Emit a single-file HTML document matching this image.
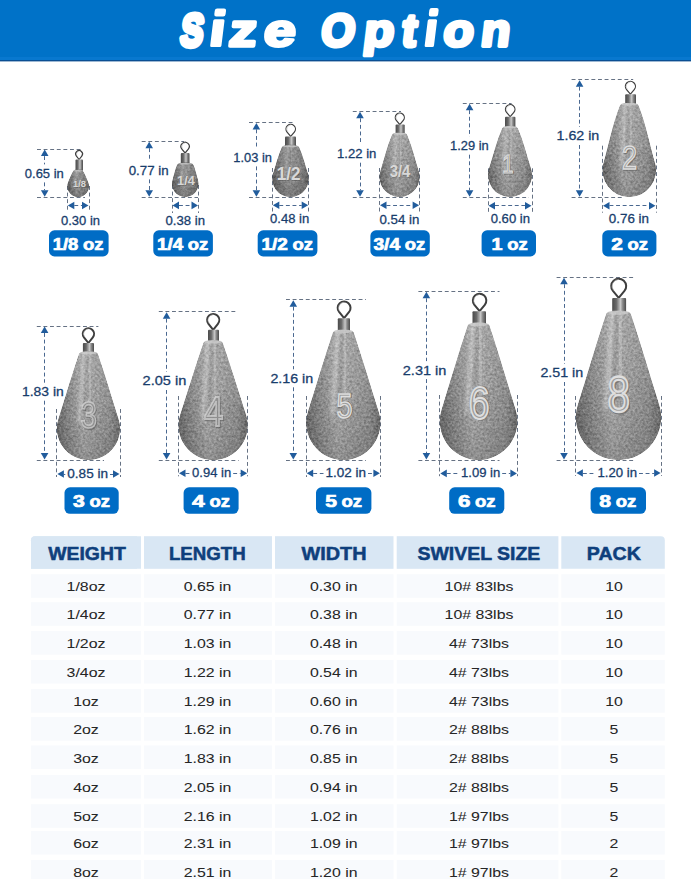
<!DOCTYPE html><html><head><meta charset="utf-8"><style>
html,body{margin:0;padding:0;background:#fff;width:691px;height:879px;overflow:hidden}
svg{display:block}
text{font-family:"Liberation Sans",sans-serif}
.dl{stroke:#667284;stroke-width:1;stroke-dasharray:3.9 2.7;fill:none}
.da{stroke:#4a6890;stroke-width:1;stroke-dasharray:3.9 2.7;fill:none}
.dt{fill:#183d6c;stroke:#183d6c;stroke-width:0.28}
.pl{fill:#fff;font-weight:bold}
.th{fill:#0f3f7c;font-weight:bold}
.td{fill:#262626;stroke:#262626;stroke-width:0.05}
</style></head><body>
<svg width="691" height="879" viewBox="0 0 691 879">
<defs>
<linearGradient id="gb" x1="0" y1="0" x2="1" y2="0">
<stop offset="0" stop-color="#686868"/><stop offset="0.18" stop-color="#858585"/><stop offset="0.42" stop-color="#a4a4a4"/><stop offset="0.58" stop-color="#9b9b9b"/><stop offset="0.85" stop-color="#8b8b8b"/><stop offset="1" stop-color="#6c6c6c"/>
</linearGradient>
<linearGradient id="gv" x1="0" y1="0" x2="0" y2="1">
<stop offset="0" stop-color="#fff" stop-opacity="0.10"/><stop offset="0.45" stop-color="#fff" stop-opacity="0.03"/><stop offset="0.7" stop-color="#000" stop-opacity="0.03"/><stop offset="1" stop-color="#000" stop-opacity="0.12"/>
</linearGradient>
<linearGradient id="gc" x1="0" y1="0" x2="1" y2="0">
<stop offset="0" stop-color="#4a4a4a"/><stop offset="0.3" stop-color="#6a6a6a"/><stop offset="0.6" stop-color="#c8c8c8"/><stop offset="0.75" stop-color="#8a8a8a"/><stop offset="1" stop-color="#4a4a4a"/>
</linearGradient>
<filter id="tex" x="-5%" y="-5%" width="110%" height="110%" color-interpolation-filters="sRGB">
<feTurbulence type="fractalNoise" baseFrequency="0.42" numOctaves="3" seed="7" result="n"/>
<feColorMatrix in="n" type="matrix" values="1 0 0 0 0  1 0 0 0 0  1 0 0 0 0  0 0 0 0 1" result="g"/>
<feComposite in="SourceGraphic" in2="g" operator="arithmetic" k1="0" k2="1" k3="0.34" k4="-0.17" result="m"/>
<feComposite in="m" in2="SourceGraphic" operator="in"/>
</filter>
<filter id="blur" x="-50%" y="-10%" width="200%" height="120%"><feGaussianBlur stdDeviation="1.8"/></filter>
</defs>
<rect x="0" y="0" width="691" height="61" fill="#0072c8"/>
<rect x="0" y="57" width="691" height="3" fill="#0878cf"/>
<rect x="0" y="60" width="691" height="1.4" fill="#0b4f92"/>
<g transform="skewX(-7)"><text transform="translate(184.83,45.7) scale(0.739,1)" font-size="45.5" font-weight="bold" fill="#fff" stroke="#fff" stroke-width="5.41" stroke-linejoin="round">S</text><rect x="215.77" y="19.2" width="11.27" height="27.80" rx="1.5" fill="#fff"/><rect x="216.07" y="8.50" width="11.27" height="8.00" rx="2.2" fill="#fff"/><text transform="translate(233.58,45.7) scale(1.201,1)" font-size="45.5" font-weight="bold" fill="#fff" stroke="#fff" stroke-width="3.33" stroke-linejoin="round">z</text><text transform="translate(268.07,45.7) scale(1.257,1)" font-size="45.5" font-weight="bold" fill="#fff" stroke="#fff" stroke-width="3.18" stroke-linejoin="round">e</text><text transform="translate(325.24,45.7) scale(0.951,1)" font-size="45.5" font-weight="bold" fill="#fff" stroke="#fff" stroke-width="4.20" stroke-linejoin="round">O</text><text transform="translate(367.97,45.7) scale(1.099,1)" font-size="45.5" font-weight="bold" fill="#fff" stroke="#fff" stroke-width="3.64" stroke-linejoin="round">p</text><text transform="translate(406.42,45.7) scale(0.932,1)" font-size="45.5" font-weight="bold" fill="#fff" stroke="#fff" stroke-width="4.29" stroke-linejoin="round">t</text><rect x="430.27" y="19.2" width="9.32" height="27.80" rx="1.5" fill="#fff"/><rect x="430.57" y="8.10" width="9.32" height="8.40" rx="2.2" fill="#fff"/><text transform="translate(447.59,45.7) scale(1.093,1)" font-size="45.5" font-weight="bold" fill="#fff" stroke="#fff" stroke-width="3.66" stroke-linejoin="round">o</text><text transform="translate(485.44,45.7) scale(1.045,1)" font-size="45.5" font-weight="bold" fill="#fff" stroke="#fff" stroke-width="3.83" stroke-linejoin="round">n</text></g>

<line x1="37.0" y1="149.5" x2="81.0" y2="149.5" class="dl"/>
<line x1="37.0" y1="197.5" x2="85.0" y2="197.5" class="dl"/>
<line x1="44.5" y1="156.1" x2="44.5" y2="164.4" class="da"/>
<line x1="44.5" y1="182.4" x2="44.5" y2="190.2" class="da"/>
<polygon points="44.7,149.6 40.9,156.1 48.5,156.1" fill="#215c9c"/>
<polygon points="44.7,196.7 40.9,190.2 48.5,190.2" fill="#215c9c"/>
<text x="24.8" y="177.8" textLength="39.0" lengthAdjust="spacingAndGlyphs" class="dt" font-size="12.7">0.65 in</text>
<line x1="67.5" y1="186.0" x2="67.5" y2="212.0" class="dl"/>
<line x1="89.5" y1="186.0" x2="89.5" y2="212.0" class="dl"/>
<line x1="74.3" y1="205.5" x2="82.0" y2="205.5" class="da"/>
<text x="61.0" y="224.7" textLength="39.0" lengthAdjust="spacingAndGlyphs" class="dt" font-size="12.7">0.30 in</text>
<polygon points="67.8,205.5 74.3,201.7 74.3,209.3" fill="#215c9c"/>
<polygon points="88.5,205.5 82.0,201.7 82.0,209.3" fill="#215c9c"/>
<path d="M79.10,159.50 L76.43,156.08 A3.39,3.39 0 1 1 81.77,156.08 Z" fill="none" stroke="#3e3e3e" stroke-width="1.20" stroke-linejoin="round"/>
<path d="M77.13,155.58 A2.69,2.69 0 0 1 79.10,151.30" fill="none" stroke="#bbb" stroke-width="0.6"/>
<rect x="75.5" y="159.5" width="7.5" height="11.5" fill="url(#gc)" rx="1"/>
<path d="M72.73,171.90 C73.54,170.00 75.44,169.32 78.15,169.32 C80.86,169.32 82.76,170.00 83.58,171.90 C85.37,174.94 86.55,178.43 88.02,181.65 A10.85,10.85 0 1 1 68.28,181.65 C69.75,178.43 70.93,174.94 72.73,171.90 Z" fill="url(#gb)" filter="url(#tex)"/>
<path d="M72.73,171.90 C73.54,170.00 75.44,169.32 78.15,169.32 C80.86,169.32 82.76,170.00 83.58,171.90 C85.37,174.94 86.55,178.43 88.02,181.65 A10.85,10.85 0 1 1 68.28,181.65 C69.75,178.43 70.93,174.94 72.73,171.90 Z" fill="url(#gv)"/>
<path d="M72.73,171.90 C73.54,170.00 75.44,169.32 78.15,169.32 C80.86,169.32 82.76,170.00 83.58,171.90 C85.37,174.94 86.55,178.43 88.02,181.65 A10.85,10.85 0 1 1 68.28,181.65 C69.75,178.43 70.93,174.94 72.73,171.90 Z" fill="#000" opacity="0.13"/>
<path d="M76.63,172.00 L74.90,187.55" stroke="#fff" stroke-opacity="0.25" stroke-width="1.30" stroke-linecap="round" filter="url(#blur)"/>
<path d="M78.58,172.00 L78.80,184.85" stroke="#fff" stroke-opacity="0.22" stroke-width="1.09" stroke-linecap="round" filter="url(#blur)"/>
<path d="M77.61,174.00 L76.85,186.20" stroke="#000" stroke-opacity="0.10" stroke-width="1.09" stroke-linecap="round" filter="url(#blur)"/>
<ellipse cx="78.15" cy="170.80" rx="4.88" ry="0.80" fill="#d0d0d0" opacity="0.7"/>
<text x="73.5" y="187.8" textLength="13.0" lengthAdjust="spacingAndGlyphs" font-size="9.9" font-weight="bold" fill="#555" opacity="0.5">1/8</text>
<text x="73.0" y="187.3" textLength="13.0" lengthAdjust="spacingAndGlyphs" font-size="9.9" font-weight="bold" fill="#d8d8d8">1/8</text>
<rect x="49.0" y="230.3" width="59.6" height="26.1" rx="5.5" fill="#006cc5"/>
<text x="52.7" y="249.7" textLength="25.6" lengthAdjust="spacingAndGlyphs" font-size="16.3" class="pl" stroke="#fff" stroke-width="0.7">1/8</text>
<text x="83.0" y="249.7" textLength="20.5" lengthAdjust="spacingAndGlyphs" font-size="16.3" class="pl" stroke="#fff" stroke-width="0.7">oz</text>
<line x1="141.7" y1="141.5" x2="184.0" y2="141.5" class="dl"/>
<line x1="141.7" y1="197.5" x2="198.0" y2="197.5" class="dl"/>
<line x1="149.5" y1="148.2" x2="149.5" y2="161.4" class="da"/>
<line x1="149.5" y1="179.4" x2="149.5" y2="190.2" class="da"/>
<polygon points="149.2,141.7 145.4,148.2 153.0,148.2" fill="#215c9c"/>
<polygon points="149.2,196.7 145.4,190.2 153.0,190.2" fill="#215c9c"/>
<text x="128.7" y="174.8" textLength="39.9" lengthAdjust="spacingAndGlyphs" class="dt" font-size="12.7">0.77 in</text>
<line x1="172.5" y1="185.0" x2="172.5" y2="213.0" class="dl"/>
<line x1="198.5" y1="185.0" x2="198.5" y2="213.0" class="dl"/>
<line x1="179.0" y1="205.5" x2="191.5" y2="205.5" class="da"/>
<text x="165.5" y="225.1" textLength="39.5" lengthAdjust="spacingAndGlyphs" class="dt" font-size="12.7">0.38 in</text>
<polygon points="172.5,205.4 179.0,201.6 179.0,209.2" fill="#215c9c"/>
<polygon points="198.0,205.4 191.5,201.6 191.5,209.2" fill="#215c9c"/>
<path d="M185.10,153.00 L181.89,149.07 A4.15,4.15 0 1 1 188.31,149.07 Z" fill="none" stroke="#3e3e3e" stroke-width="1.20" stroke-linejoin="round"/>
<path d="M182.59,148.57 A3.45,3.45 0 0 1 185.10,143.00" fill="none" stroke="#bbb" stroke-width="0.6"/>
<rect x="180.8" y="153.0" width="8.7" height="11.0" fill="url(#gc)" rx="1"/>
<path d="M177.03,165.10 C177.94,163.00 181.14,162.25 185.25,162.25 C189.36,162.25 192.56,163.00 193.47,165.10 C195.44,169.81 196.46,175.03 197.94,179.92 A13.25,13.25 0 1 1 172.56,179.92 C174.04,175.03 175.06,169.81 177.03,165.10 Z" fill="url(#gb)" filter="url(#tex)"/>
<path d="M177.03,165.10 C177.94,163.00 181.14,162.25 185.25,162.25 C189.36,162.25 192.56,163.00 193.47,165.10 C195.44,169.81 196.46,175.03 197.94,179.92 A13.25,13.25 0 1 1 172.56,179.92 C174.04,175.03 175.06,169.81 177.03,165.10 Z" fill="url(#gv)"/>
<path d="M177.03,165.10 C177.94,163.00 181.14,162.25 185.25,162.25 C189.36,162.25 192.56,163.00 193.47,165.10 C195.44,169.81 196.46,175.03 197.94,179.92 A13.25,13.25 0 1 1 172.56,179.92 C174.04,175.03 175.06,169.81 177.03,165.10 Z" fill="#000" opacity="0.13"/>
<path d="M183.40,165.00 L181.28,185.10" stroke="#fff" stroke-opacity="0.25" stroke-width="1.59" stroke-linecap="round" filter="url(#blur)"/>
<path d="M185.78,165.00 L186.04,181.70" stroke="#fff" stroke-opacity="0.22" stroke-width="1.33" stroke-linecap="round" filter="url(#blur)"/>
<path d="M184.59,167.00 L183.66,183.40" stroke="#000" stroke-opacity="0.10" stroke-width="1.33" stroke-linecap="round" filter="url(#blur)"/>
<ellipse cx="185.25" cy="163.80" rx="7.39" ry="0.80" fill="#d0d0d0" opacity="0.7"/>
<text x="177.6" y="185.5" textLength="17.7" lengthAdjust="spacingAndGlyphs" font-size="13.4" font-weight="bold" fill="#555" opacity="0.5">1/4</text>
<text x="177.1" y="185.0" textLength="17.7" lengthAdjust="spacingAndGlyphs" font-size="13.4" font-weight="bold" fill="#d8d8d8">1/4</text>
<rect x="153.3" y="230.3" width="59.6" height="26.1" rx="5.5" fill="#006cc5"/>
<text x="157.0" y="249.7" textLength="26.1" lengthAdjust="spacingAndGlyphs" font-size="16.3" class="pl" stroke="#fff" stroke-width="0.7">1/4</text>
<text x="187.8" y="249.7" textLength="20.5" lengthAdjust="spacingAndGlyphs" font-size="16.3" class="pl" stroke="#fff" stroke-width="0.7">oz</text>
<line x1="249.0" y1="122.5" x2="292.8" y2="122.5" class="dl"/>
<line x1="249.0" y1="197.5" x2="304.7" y2="197.5" class="dl"/>
<line x1="256.5" y1="129.4" x2="256.5" y2="148.4" class="da"/>
<line x1="256.5" y1="166.4" x2="256.5" y2="190.2" class="da"/>
<polygon points="256.4,122.9 252.6,129.4 260.2,129.4" fill="#215c9c"/>
<polygon points="256.4,196.7 252.6,190.2 260.2,190.2" fill="#215c9c"/>
<text x="233.3" y="161.8" textLength="38.6" lengthAdjust="spacingAndGlyphs" class="dt" font-size="12.7">1.03 in</text>
<line x1="272.5" y1="168.0" x2="272.5" y2="212.0" class="dl"/>
<line x1="308.5" y1="168.0" x2="308.5" y2="212.0" class="dl"/>
<line x1="279.3" y1="205.5" x2="301.7" y2="205.5" class="da"/>
<text x="270.0" y="223.2" textLength="39.2" lengthAdjust="spacingAndGlyphs" class="dt" font-size="12.7">0.48 in</text>
<polygon points="272.8,205.3 279.3,201.5 279.3,209.1" fill="#215c9c"/>
<polygon points="308.2,205.3 301.7,201.5 301.7,209.1" fill="#215c9c"/>
<path d="M290.70,136.40 L287.07,132.08 A4.73,4.73 0 1 1 294.33,132.08 Z" fill="none" stroke="#3e3e3e" stroke-width="1.20" stroke-linejoin="round"/>
<path d="M287.77,131.58 A4.03,4.03 0 0 1 290.70,125.00" fill="none" stroke="#bbb" stroke-width="0.6"/>
<rect x="285.0" y="136.4" width="11.0" height="10.1" fill="url(#gc)" rx="1"/>
<path d="M281.76,147.60 C282.66,145.50 286.13,144.75 290.50,144.75 C294.87,144.75 298.34,145.50 299.24,147.60 C302.91,155.65 304.94,164.63 307.76,173.02 A18.20,18.20 0 1 1 273.24,173.02 C276.06,164.63 278.09,155.65 281.76,147.60 Z" fill="url(#gb)" filter="url(#tex)"/>
<path d="M281.76,147.60 C282.66,145.50 286.13,144.75 290.50,144.75 C294.87,144.75 298.34,145.50 299.24,147.60 C302.91,155.65 304.94,164.63 307.76,173.02 A18.20,18.20 0 1 1 273.24,173.02 C276.06,164.63 278.09,155.65 281.76,147.60 Z" fill="url(#gv)"/>
<path d="M281.76,147.60 C282.66,145.50 286.13,144.75 290.50,144.75 C294.87,144.75 298.34,145.50 299.24,147.60 C302.91,155.65 304.94,164.63 307.76,173.02 A18.20,18.20 0 1 1 273.24,173.02 C276.06,164.63 278.09,155.65 281.76,147.60 Z" fill="#000" opacity="0.13"/>
<path d="M287.95,147.50 L285.04,178.97" stroke="#fff" stroke-opacity="0.25" stroke-width="2.18" stroke-linecap="round" filter="url(#blur)"/>
<path d="M291.23,147.50 L291.59,173.82" stroke="#fff" stroke-opacity="0.22" stroke-width="1.82" stroke-linecap="round" filter="url(#blur)"/>
<path d="M289.59,149.50 L288.32,176.40" stroke="#000" stroke-opacity="0.10" stroke-width="1.82" stroke-linecap="round" filter="url(#blur)"/>
<ellipse cx="290.50" cy="146.30" rx="7.86" ry="0.91" fill="#d0d0d0" opacity="0.7"/>
<text x="277.3" y="180.5" textLength="23.8" lengthAdjust="spacingAndGlyphs" font-size="18.0" font-weight="bold" fill="#555" opacity="0.5">1/2</text>
<text x="276.8" y="180.0" textLength="23.8" lengthAdjust="spacingAndGlyphs" font-size="18.0" font-weight="bold" fill="#d8d8d8">1/2</text>
<rect x="257.7" y="230.3" width="59.7" height="26.1" rx="5.5" fill="#006cc5"/>
<text x="261.6" y="249.7" textLength="26.3" lengthAdjust="spacingAndGlyphs" font-size="16.3" class="pl" stroke="#fff" stroke-width="0.7">1/2</text>
<text x="292.6" y="249.7" textLength="20.5" lengthAdjust="spacingAndGlyphs" font-size="16.3" class="pl" stroke="#fff" stroke-width="0.7">oz</text>
<line x1="352.8" y1="111.5" x2="401.0" y2="111.5" class="dl"/>
<line x1="352.8" y1="197.5" x2="408.0" y2="197.5" class="dl"/>
<line x1="360.5" y1="118.3" x2="360.5" y2="144.7" class="da"/>
<line x1="360.5" y1="162.7" x2="360.5" y2="190.2" class="da"/>
<polygon points="360.0,111.8 356.2,118.3 363.8,118.3" fill="#215c9c"/>
<polygon points="360.0,196.7 356.2,190.2 363.8,190.2" fill="#215c9c"/>
<text x="337.0" y="158.1" textLength="39.4" lengthAdjust="spacingAndGlyphs" class="dt" font-size="12.7">1.22 in</text>
<line x1="379.5" y1="168.0" x2="379.5" y2="213.0" class="dl"/>
<line x1="419.5" y1="168.0" x2="419.5" y2="213.0" class="dl"/>
<line x1="386.5" y1="205.5" x2="412.6" y2="205.5" class="da"/>
<text x="379.5" y="223.7" textLength="39.8" lengthAdjust="spacingAndGlyphs" class="dt" font-size="12.7">0.54 in</text>
<polygon points="380.0,205.3 386.5,201.5 386.5,209.1" fill="#215c9c"/>
<polygon points="419.1,205.3 412.6,201.5 412.6,209.1" fill="#215c9c"/>
<path d="M399.80,124.60 L396.32,120.42 A4.52,4.52 0 1 1 403.28,120.42 Z" fill="none" stroke="#3e3e3e" stroke-width="1.20" stroke-linejoin="round"/>
<path d="M397.02,119.92 A3.82,3.82 0 0 1 399.80,113.70" fill="none" stroke="#bbb" stroke-width="0.6"/>
<rect x="395.6" y="124.6" width="9.1" height="9.4" fill="url(#gc)" rx="1"/>
<path d="M391.93,135.10 C392.83,133.00 395.74,132.25 399.55,132.25 C403.36,132.25 406.27,133.00 407.17,135.10 C412.17,146.43 414.85,159.03 418.64,170.82 A20.05,20.05 0 1 1 380.46,170.82 C384.25,159.03 386.93,146.43 391.93,135.10 Z" fill="url(#gb)" filter="url(#tex)"/>
<path d="M391.93,135.10 C392.83,133.00 395.74,132.25 399.55,132.25 C403.36,132.25 406.27,133.00 407.17,135.10 C412.17,146.43 414.85,159.03 418.64,170.82 A20.05,20.05 0 1 1 380.46,170.82 C384.25,159.03 386.93,146.43 391.93,135.10 Z" fill="url(#gv)"/>
<path d="M396.74,135.00 L393.54,174.60" stroke="#fff" stroke-opacity="0.25" stroke-width="2.41" stroke-linecap="round" filter="url(#blur)"/>
<path d="M400.35,135.00 L400.75,168.20" stroke="#fff" stroke-opacity="0.22" stroke-width="2.01" stroke-linecap="round" filter="url(#blur)"/>
<path d="M398.55,137.00 L397.14,171.40" stroke="#000" stroke-opacity="0.10" stroke-width="2.01" stroke-linecap="round" filter="url(#blur)"/>
<ellipse cx="399.55" cy="133.80" rx="6.86" ry="1.00" fill="#d0d0d0" opacity="0.7"/>
<text x="390.2" y="177.9" textLength="20.6" lengthAdjust="spacingAndGlyphs" font-size="15.6" font-weight="bold" fill="#555" opacity="0.5">3/4</text>
<text x="389.7" y="177.4" textLength="20.6" lengthAdjust="spacingAndGlyphs" font-size="15.6" font-weight="bold" fill="#d8d8d8">3/4</text>
<rect x="370.4" y="230.3" width="59.4" height="26.1" rx="5.5" fill="#006cc5"/>
<text x="373.4" y="249.7" textLength="26.7" lengthAdjust="spacingAndGlyphs" font-size="16.3" class="pl" stroke="#fff" stroke-width="0.7">3/4</text>
<text x="404.8" y="249.7" textLength="20.5" lengthAdjust="spacingAndGlyphs" font-size="16.3" class="pl" stroke="#fff" stroke-width="0.7">oz</text>
<line x1="462.8" y1="103.5" x2="511.6" y2="103.5" class="dl"/>
<line x1="462.8" y1="197.5" x2="529.0" y2="197.5" class="dl"/>
<line x1="469.5" y1="110.2" x2="469.5" y2="136.7" class="da"/>
<line x1="469.5" y1="154.7" x2="469.5" y2="190.2" class="da"/>
<polygon points="469.6,103.7 465.8,110.2 473.4,110.2" fill="#215c9c"/>
<polygon points="469.6,196.7 465.8,190.2 473.4,190.2" fill="#215c9c"/>
<text x="450.0" y="150.1" textLength="38.7" lengthAdjust="spacingAndGlyphs" class="dt" font-size="12.7">1.29 in</text>
<line x1="488.5" y1="168.3" x2="488.5" y2="211.9" class="dl"/>
<line x1="532.5" y1="168.3" x2="532.5" y2="211.9" class="dl"/>
<line x1="495.0" y1="205.5" x2="525.0" y2="205.5" class="da"/>
<text x="490.7" y="223.0" textLength="39.3" lengthAdjust="spacingAndGlyphs" class="dt" font-size="12.7">0.60 in</text>
<polygon points="488.5,205.7 495.0,201.9 495.0,209.5" fill="#215c9c"/>
<polygon points="531.5,205.7 525.0,201.9 525.0,209.5" fill="#215c9c"/>
<path d="M510.20,116.70 L506.57,112.38 A4.73,4.73 0 1 1 513.83,112.38 Z" fill="none" stroke="#3e3e3e" stroke-width="1.20" stroke-linejoin="round"/>
<path d="M507.27,111.88 A4.03,4.03 0 0 1 510.20,105.30" fill="none" stroke="#bbb" stroke-width="0.6"/>
<rect x="505.0" y="116.7" width="10.4" height="10.7" fill="url(#gc)" rx="1"/>
<path d="M502.08,128.50 C502.98,126.40 506.04,125.65 510.00,125.65 C513.96,125.65 517.02,126.40 517.92,128.50 C523.55,141.07 526.62,155.07 530.91,168.15 A22.00,22.00 0 1 1 489.09,168.15 C493.38,155.07 496.45,141.07 502.08,128.50 Z" fill="url(#gb)" filter="url(#tex)"/>
<path d="M502.08,128.50 C502.98,126.40 506.04,125.65 510.00,125.65 C513.96,125.65 517.02,126.40 517.92,128.50 C523.55,141.07 526.62,155.07 530.91,168.15 A22.00,22.00 0 1 1 489.09,168.15 C493.38,155.07 496.45,141.07 502.08,128.50 Z" fill="url(#gv)"/>
<path d="M506.92,128.40 L503.40,172.29" stroke="#fff" stroke-opacity="0.25" stroke-width="2.64" stroke-linecap="round" filter="url(#blur)"/>
<path d="M510.88,128.40 L511.32,165.23" stroke="#fff" stroke-opacity="0.22" stroke-width="2.20" stroke-linecap="round" filter="url(#blur)"/>
<path d="M508.90,130.40 L507.36,168.76" stroke="#000" stroke-opacity="0.10" stroke-width="2.20" stroke-linecap="round" filter="url(#blur)"/>
<ellipse cx="510.00" cy="127.20" rx="7.13" ry="1.10" fill="#d0d0d0" opacity="0.7"/>
<text x="503.0" y="173.5" textLength="11.3" lengthAdjust="spacingAndGlyphs" font-size="25.4" fill="#4a4a4a" stroke="#4a4a4a" stroke-width="1.53" opacity="0.45">1</text>
<text x="502.3" y="172.8" textLength="11.3" lengthAdjust="spacingAndGlyphs" font-size="25.4" fill="#9a9a9a" stroke="#dedede" stroke-width="1.14" opacity="1">1</text>
<rect x="481.6" y="230.3" width="54.4" height="26.1" rx="5.5" fill="#006cc5"/>
<text x="491.5" y="249.7" textLength="11.0" lengthAdjust="spacingAndGlyphs" font-size="16.3" class="pl" stroke="#fff" stroke-width="0.7">1</text>
<text x="507.2" y="249.7" textLength="20.5" lengthAdjust="spacingAndGlyphs" font-size="16.3" class="pl" stroke="#fff" stroke-width="0.7">oz</text>
<line x1="571.6" y1="79.5" x2="633.2" y2="79.5" class="dl"/>
<line x1="571.6" y1="197.5" x2="623.5" y2="197.5" class="dl"/>
<line x1="579.5" y1="86.7" x2="579.5" y2="127.0" class="da"/>
<line x1="579.5" y1="145.0" x2="579.5" y2="190.2" class="da"/>
<polygon points="579.6,80.2 575.8,86.7 583.4,86.7" fill="#215c9c"/>
<polygon points="579.6,196.7 575.8,190.2 583.4,190.2" fill="#215c9c"/>
<text x="556.5" y="140.4" textLength="42.8" lengthAdjust="spacingAndGlyphs" class="dt" font-size="12.7">1.62 in</text>
<line x1="602.5" y1="145.7" x2="602.5" y2="212.7" class="dl"/>
<line x1="656.5" y1="145.7" x2="656.5" y2="212.7" class="dl"/>
<line x1="609.5" y1="205.5" x2="649.0" y2="205.5" class="da"/>
<text x="608.8" y="223.1" textLength="40.2" lengthAdjust="spacingAndGlyphs" class="dt" font-size="12.7">0.76 in</text>
<polygon points="603.0,205.8 609.5,202.0 609.5,209.6" fill="#215c9c"/>
<polygon points="655.5,205.8 649.0,202.0 649.0,209.6" fill="#215c9c"/>
<path d="M630.40,94.20 L626.57,89.68 A5.03,5.03 0 1 1 634.23,89.68 Z" fill="none" stroke="#3e3e3e" stroke-width="1.20" stroke-linejoin="round"/>
<path d="M627.27,89.18 A4.33,4.33 0 0 1 630.40,82.10" fill="none" stroke="#bbb" stroke-width="0.6"/>
<rect x="625.2" y="94.2" width="10.8" height="10.3" fill="url(#gc)" rx="1"/>
<path d="M619.99,105.60 C620.89,103.50 624.62,102.75 629.25,102.75 C633.88,102.75 637.61,103.50 638.51,105.60 C645.88,123.83 649.53,143.97 654.96,162.86 A26.75,26.75 0 1 1 603.54,162.86 C608.97,143.97 612.62,123.83 619.99,105.60 Z" fill="url(#gb)" filter="url(#tex)"/>
<path d="M619.99,105.60 C620.89,103.50 624.62,102.75 629.25,102.75 C633.88,102.75 637.61,103.50 638.51,105.60 C645.88,123.83 649.53,143.97 654.96,162.86 A26.75,26.75 0 1 1 603.54,162.86 C608.97,143.97 612.62,123.83 619.99,105.60 Z" fill="url(#gv)"/>
<path d="M625.50,105.50 L621.23,164.28" stroke="#fff" stroke-opacity="0.25" stroke-width="3.21" stroke-linecap="round" filter="url(#blur)"/>
<path d="M630.32,105.50 L630.86,154.93" stroke="#fff" stroke-opacity="0.22" stroke-width="2.68" stroke-linecap="round" filter="url(#blur)"/>
<path d="M627.91,107.50 L626.04,159.60" stroke="#000" stroke-opacity="0.10" stroke-width="2.68" stroke-linecap="round" filter="url(#blur)"/>
<ellipse cx="629.25" cy="104.30" rx="8.33" ry="1.34" fill="#d0d0d0" opacity="0.7"/>
<text x="622.7" y="170.1" textLength="15.1" lengthAdjust="spacingAndGlyphs" font-size="33.9" fill="#4a4a4a" stroke="#4a4a4a" stroke-width="2.03" opacity="0.45">2</text>
<text x="622.0" y="169.4" textLength="15.1" lengthAdjust="spacingAndGlyphs" font-size="33.9" fill="#9a9a9a" stroke="#dedede" stroke-width="1.52" opacity="1">2</text>
<rect x="602.3" y="230.3" width="54.1" height="26.1" rx="5.5" fill="#006cc5"/>
<text x="611.3" y="249.7" textLength="11.6" lengthAdjust="spacingAndGlyphs" font-size="16.3" class="pl" stroke="#fff" stroke-width="0.7">2</text>
<text x="627.6" y="249.7" textLength="20.5" lengthAdjust="spacingAndGlyphs" font-size="16.3" class="pl" stroke="#fff" stroke-width="0.7">oz</text>
<line x1="36.8" y1="326.5" x2="98.4" y2="326.5" class="dl"/>
<line x1="36.8" y1="460.5" x2="104.0" y2="460.5" class="dl"/>
<line x1="44.5" y1="333.0" x2="44.5" y2="382.7" class="da"/>
<line x1="44.5" y1="400.7" x2="44.5" y2="453.0" class="da"/>
<polygon points="44.6,326.5 40.8,333.0 48.4,333.0" fill="#215c9c"/>
<polygon points="44.6,459.5 40.8,453.0 48.4,453.0" fill="#215c9c"/>
<text x="22.0" y="396.1" textLength="41.7" lengthAdjust="spacingAndGlyphs" class="dt" font-size="12.7">1.83 in</text>
<line x1="56.5" y1="409.0" x2="56.5" y2="477.0" class="dl"/>
<line x1="120.5" y1="409.0" x2="120.5" y2="477.0" class="dl"/>
<line x1="63.9" y1="474.5" x2="65.3" y2="474.5" class="da"/>
<line x1="110.0" y1="474.5" x2="113.0" y2="474.5" class="da"/>
<text x="67.3" y="477.5" textLength="40.7" lengthAdjust="spacingAndGlyphs" class="dt" font-size="12.7">0.85 in</text>
<polygon points="57.4,474.0 63.9,470.2 63.9,477.8" fill="#215c9c"/>
<polygon points="119.5,474.0 113.0,470.2 113.0,477.8" fill="#215c9c"/>
<path d="M88.40,343.00 L83.96,337.30 A5.64,5.64 0 1 1 92.84,337.30 Z" fill="none" stroke="#3e3e3e" stroke-width="2.00" stroke-linejoin="round"/>
<path d="M84.66,336.80 A4.94,4.94 0 0 1 88.40,328.90" fill="none" stroke="#bbb" stroke-width="0.6"/>
<rect x="82.9" y="343.0" width="11.1" height="11.0" fill="url(#gc)" rx="1"/>
<path d="M78.98,354.10 C79.89,352.00 83.72,351.25 88.45,351.25 C93.18,351.25 97.02,352.00 97.92,354.10 C105.09,375.36 111.72,397.51 118.52,418.89 A31.55,31.55 0 1 1 58.38,418.89 C65.18,397.51 71.81,375.36 78.98,354.10 Z" fill="url(#gb)" filter="url(#tex)"/>
<path d="M78.98,354.10 C79.89,352.00 83.72,351.25 88.45,351.25 C93.18,351.25 97.02,352.00 97.92,354.10 C105.09,375.36 111.72,397.51 118.52,418.89 A31.55,31.55 0 1 1 58.38,418.89 C65.18,397.51 71.81,375.36 78.98,354.10 Z" fill="url(#gv)"/>
<path d="M84.03,354.00 L78.98,422.20" stroke="#fff" stroke-opacity="0.25" stroke-width="3.79" stroke-linecap="round" filter="url(#blur)"/>
<path d="M89.71,354.00 L90.34,411.40" stroke="#fff" stroke-opacity="0.22" stroke-width="3.16" stroke-linecap="round" filter="url(#blur)"/>
<path d="M86.87,356.00 L84.66,416.80" stroke="#000" stroke-opacity="0.10" stroke-width="3.16" stroke-linecap="round" filter="url(#blur)"/>
<ellipse cx="88.45" cy="352.80" rx="8.52" ry="1.58" fill="#d0d0d0" opacity="0.7"/>
<text x="81.2" y="428.7" textLength="16.5" lengthAdjust="spacingAndGlyphs" font-size="37.1" fill="#4a4a4a" stroke="#4a4a4a" stroke-width="2.23" opacity="0.45">3</text>
<text x="80.5" y="428.0" textLength="16.5" lengthAdjust="spacingAndGlyphs" font-size="37.1" fill="#9a9a9a" stroke="#dedede" stroke-width="1.67" opacity="0.7">3</text>
<rect x="64.5" y="487.3" width="54.2" height="26.5" rx="5.5" fill="#006cc5"/>
<text x="73.0" y="506.8" textLength="11.8" lengthAdjust="spacingAndGlyphs" font-size="16.3" class="pl" stroke="#fff" stroke-width="0.7">3</text>
<text x="89.5" y="506.8" textLength="20.5" lengthAdjust="spacingAndGlyphs" font-size="16.3" class="pl" stroke="#fff" stroke-width="0.7">oz</text>
<line x1="158.8" y1="311.5" x2="237.8" y2="311.5" class="dl"/>
<line x1="158.8" y1="460.5" x2="238.6" y2="460.5" class="dl"/>
<line x1="166.5" y1="318.7" x2="166.5" y2="372.0" class="da"/>
<line x1="166.5" y1="390.0" x2="166.5" y2="453.0" class="da"/>
<polygon points="166.6,312.2 162.8,318.7 170.4,318.7" fill="#215c9c"/>
<polygon points="166.6,459.5 162.8,453.0 170.4,453.0" fill="#215c9c"/>
<text x="142.6" y="385.4" textLength="43.7" lengthAdjust="spacingAndGlyphs" class="dt" font-size="12.7">2.05 in</text>
<line x1="178.5" y1="396.0" x2="178.5" y2="476.3" class="dl"/>
<line x1="247.5" y1="396.0" x2="247.5" y2="476.3" class="dl"/>
<line x1="185.5" y1="473.5" x2="190.1" y2="473.5" class="da"/>
<line x1="233.2" y1="473.5" x2="240.7" y2="473.5" class="da"/>
<text x="192.1" y="476.7" textLength="39.1" lengthAdjust="spacingAndGlyphs" class="dt" font-size="12.7">0.94 in</text>
<polygon points="179.0,473.2 185.5,469.4 185.5,477.0" fill="#215c9c"/>
<polygon points="247.2,473.2 240.7,469.4 240.7,477.0" fill="#215c9c"/>
<path d="M213.20,329.80 L208.46,323.82 A6.06,6.06 0 1 1 217.94,323.82 Z" fill="none" stroke="#3e3e3e" stroke-width="2.00" stroke-linejoin="round"/>
<path d="M209.16,323.32 A5.36,5.36 0 0 1 213.20,314.70" fill="none" stroke="#bbb" stroke-width="0.6"/>
<rect x="208.0" y="329.8" width="11.0" height="12.2" fill="url(#gc)" rx="1"/>
<path d="M203.41,343.10 C204.31,341.00 208.26,340.25 213.10,340.25 C217.94,340.25 221.89,341.00 222.79,343.10 C230.86,366.60 238.35,391.09 246.01,414.73 A34.60,34.60 0 1 1 180.19,414.73 C187.85,391.09 195.34,366.60 203.41,343.10 Z" fill="url(#gb)" filter="url(#tex)"/>
<path d="M203.41,343.10 C204.31,341.00 208.26,340.25 213.10,340.25 C217.94,340.25 221.89,341.00 222.79,343.10 C230.86,366.60 238.35,391.09 246.01,414.73 A34.60,34.60 0 1 1 180.19,414.73 C187.85,391.09 195.34,366.60 203.41,343.10 Z" fill="url(#gv)"/>
<path d="M208.26,343.00 L202.72,418.35" stroke="#fff" stroke-opacity="0.25" stroke-width="4.15" stroke-linecap="round" filter="url(#blur)"/>
<path d="M214.48,343.00 L215.18,406.45" stroke="#fff" stroke-opacity="0.22" stroke-width="3.46" stroke-linecap="round" filter="url(#blur)"/>
<path d="M211.37,345.00 L208.95,412.40" stroke="#000" stroke-opacity="0.10" stroke-width="3.46" stroke-linecap="round" filter="url(#blur)"/>
<ellipse cx="213.10" cy="341.80" rx="8.72" ry="1.73" fill="#d0d0d0" opacity="0.7"/>
<text x="204.9" y="426.7" textLength="19.1" lengthAdjust="spacingAndGlyphs" font-size="42.9" fill="#4a4a4a" stroke="#4a4a4a" stroke-width="2.57" opacity="0.45">4</text>
<text x="204.2" y="426.0" textLength="19.1" lengthAdjust="spacingAndGlyphs" font-size="42.9" fill="#9a9a9a" stroke="#dedede" stroke-width="1.93" opacity="0.7">4</text>
<rect x="183.6" y="487.3" width="55.0" height="26.5" rx="5.5" fill="#006cc5"/>
<text x="192.0" y="506.8" textLength="12.7" lengthAdjust="spacingAndGlyphs" font-size="16.3" class="pl" stroke="#fff" stroke-width="0.7">4</text>
<text x="209.4" y="506.8" textLength="20.5" lengthAdjust="spacingAndGlyphs" font-size="16.3" class="pl" stroke="#fff" stroke-width="0.7">oz</text>
<line x1="286.0" y1="299.5" x2="366.0" y2="299.5" class="dl"/>
<line x1="286.0" y1="460.5" x2="366.0" y2="460.5" class="dl"/>
<line x1="293.5" y1="306.7" x2="293.5" y2="369.3" class="da"/>
<line x1="293.5" y1="387.3" x2="293.5" y2="453.0" class="da"/>
<polygon points="293.3,300.2 289.5,306.7 297.1,306.7" fill="#215c9c"/>
<polygon points="293.3,459.5 289.5,453.0 297.1,453.0" fill="#215c9c"/>
<text x="270.4" y="382.7" textLength="42.8" lengthAdjust="spacingAndGlyphs" class="dt" font-size="12.7">2.16 in</text>
<line x1="306.5" y1="396.0" x2="306.5" y2="477.0" class="dl"/>
<line x1="380.5" y1="396.0" x2="380.5" y2="477.0" class="dl"/>
<line x1="313.2" y1="473.5" x2="323.5" y2="473.5" class="da"/>
<line x1="368.0" y1="473.5" x2="373.4" y2="473.5" class="da"/>
<text x="325.5" y="476.8" textLength="40.5" lengthAdjust="spacingAndGlyphs" class="dt" font-size="12.7">1.02 in</text>
<polygon points="306.7,473.3 313.2,469.5 313.2,477.1" fill="#215c9c"/>
<polygon points="379.9,473.3 373.4,469.5 373.4,477.1" fill="#215c9c"/>
<path d="M344.10,318.20 L339.09,311.97 A6.43,6.43 0 1 1 349.11,311.97 Z" fill="none" stroke="#3e3e3e" stroke-width="2.00" stroke-linejoin="round"/>
<path d="M339.79,311.47 A5.73,5.73 0 0 1 344.10,302.20" fill="none" stroke="#bbb" stroke-width="0.6"/>
<rect x="337.8" y="318.2" width="12.2" height="13.3" fill="url(#gc)" rx="1"/>
<path d="M332.91,332.60 C333.81,330.50 338.11,329.75 343.30,329.75 C348.49,329.75 352.79,330.50 353.69,332.60 C362.39,358.56 370.43,385.62 378.68,411.73 A37.10,37.10 0 1 1 307.92,411.73 C316.17,385.62 324.21,358.56 332.91,332.60 Z" fill="url(#gb)" filter="url(#tex)"/>
<path d="M332.91,332.60 C333.81,330.50 338.11,329.75 343.30,329.75 C348.49,329.75 352.79,330.50 353.69,332.60 C362.39,358.56 370.43,385.62 378.68,411.73 A37.10,37.10 0 1 1 307.92,411.73 C316.17,385.62 324.21,358.56 332.91,332.60 Z" fill="url(#gv)"/>
<path d="M338.11,332.50 L332.17,414.68" stroke="#fff" stroke-opacity="0.25" stroke-width="4.45" stroke-linecap="round" filter="url(#blur)"/>
<path d="M344.78,332.50 L345.53,401.73" stroke="#fff" stroke-opacity="0.22" stroke-width="3.71" stroke-linecap="round" filter="url(#blur)"/>
<path d="M341.44,334.50 L338.85,408.20" stroke="#000" stroke-opacity="0.10" stroke-width="3.71" stroke-linecap="round" filter="url(#blur)"/>
<ellipse cx="343.30" cy="331.30" rx="9.35" ry="1.85" fill="#d0d0d0" opacity="0.7"/>
<text x="337.3" y="418.2" textLength="15.9" lengthAdjust="spacingAndGlyphs" font-size="35.7" fill="#4a4a4a" stroke="#4a4a4a" stroke-width="2.14" opacity="0.45">5</text>
<text x="336.6" y="417.5" textLength="15.9" lengthAdjust="spacingAndGlyphs" font-size="35.7" fill="#9a9a9a" stroke="#dedede" stroke-width="1.61" opacity="1">5</text>
<rect x="316.0" y="487.3" width="55.4" height="26.5" rx="5.5" fill="#006cc5"/>
<text x="325.2" y="506.8" textLength="11.7" lengthAdjust="spacingAndGlyphs" font-size="16.3" class="pl" stroke="#fff" stroke-width="0.7">5</text>
<text x="341.6" y="506.8" textLength="20.5" lengthAdjust="spacingAndGlyphs" font-size="16.3" class="pl" stroke="#fff" stroke-width="0.7">oz</text>
<line x1="418.4" y1="291.5" x2="499.5" y2="291.5" class="dl"/>
<line x1="418.4" y1="460.5" x2="499.5" y2="460.5" class="dl"/>
<line x1="426.5" y1="298.3" x2="426.5" y2="361.1" class="da"/>
<line x1="426.5" y1="379.1" x2="426.5" y2="453.0" class="da"/>
<polygon points="426.4,291.8 422.6,298.3 430.2,298.3" fill="#215c9c"/>
<polygon points="426.4,459.5 422.6,453.0 430.2,453.0" fill="#215c9c"/>
<text x="402.8" y="374.5" textLength="43.5" lengthAdjust="spacingAndGlyphs" class="dt" font-size="12.7">2.31 in</text>
<line x1="439.5" y1="395.0" x2="439.5" y2="476.2" class="dl"/>
<line x1="517.5" y1="395.0" x2="517.5" y2="476.2" class="dl"/>
<line x1="446.8" y1="473.5" x2="459.0" y2="473.5" class="da"/>
<line x1="502.2" y1="473.5" x2="510.4" y2="473.5" class="da"/>
<text x="461.0" y="476.9" textLength="39.2" lengthAdjust="spacingAndGlyphs" class="dt" font-size="12.7">1.09 in</text>
<polygon points="440.3,473.4 446.8,469.6 446.8,477.2" fill="#215c9c"/>
<polygon points="516.9,473.4 510.4,469.6 510.4,477.2" fill="#215c9c"/>
<path d="M479.60,311.20 L474.38,304.77 A6.73,6.73 0 1 1 484.82,304.77 Z" fill="none" stroke="#3e3e3e" stroke-width="2.00" stroke-linejoin="round"/>
<path d="M475.08,304.27 A6.03,6.03 0 0 1 479.60,294.50" fill="none" stroke="#bbb" stroke-width="0.6"/>
<rect x="472.5" y="311.2" width="13.5" height="13.3" fill="url(#gc)" rx="1"/>
<path d="M467.74,325.60 C468.64,323.50 473.17,322.75 478.60,322.75 C484.03,322.75 488.56,323.50 489.46,325.60 C498.59,353.19 507.01,381.92 515.64,409.66 A38.80,38.80 0 1 1 441.56,409.66 C450.19,381.92 458.61,353.19 467.74,325.60 Z" fill="url(#gb)" filter="url(#tex)"/>
<path d="M467.74,325.60 C468.64,323.50 473.17,322.75 478.60,322.75 C484.03,322.75 488.56,323.50 489.46,325.60 C498.59,353.19 507.01,381.92 515.64,409.66 A38.80,38.80 0 1 1 441.56,409.66 C450.19,381.92 458.61,353.19 467.74,325.60 Z" fill="url(#gv)"/>
<path d="M473.17,325.50 L466.96,412.23" stroke="#fff" stroke-opacity="0.25" stroke-width="4.66" stroke-linecap="round" filter="url(#blur)"/>
<path d="M480.15,325.50 L480.93,398.57" stroke="#fff" stroke-opacity="0.22" stroke-width="3.88" stroke-linecap="round" filter="url(#blur)"/>
<path d="M476.66,327.50 L473.94,405.40" stroke="#000" stroke-opacity="0.10" stroke-width="3.88" stroke-linecap="round" filter="url(#blur)"/>
<ellipse cx="478.60" cy="324.30" rx="9.78" ry="1.94" fill="#d0d0d0" opacity="0.7"/>
<text x="469.4" y="419.2" textLength="20.7" lengthAdjust="spacingAndGlyphs" font-size="46.4" fill="#4a4a4a" stroke="#4a4a4a" stroke-width="2.79" opacity="0.45">6</text>
<text x="468.7" y="418.5" textLength="20.7" lengthAdjust="spacingAndGlyphs" font-size="46.4" fill="#9a9a9a" stroke="#dedede" stroke-width="2.09" opacity="1">6</text>
<rect x="449.2" y="487.3" width="55.1" height="26.5" rx="5.5" fill="#006cc5"/>
<text x="457.9" y="506.8" textLength="12.4" lengthAdjust="spacingAndGlyphs" font-size="16.3" class="pl" stroke="#fff" stroke-width="0.7">6</text>
<text x="475.0" y="506.8" textLength="20.5" lengthAdjust="spacingAndGlyphs" font-size="16.3" class="pl" stroke="#fff" stroke-width="0.7">oz</text>
<line x1="556.6" y1="277.5" x2="635.0" y2="277.5" class="dl"/>
<line x1="556.6" y1="460.5" x2="635.6" y2="460.5" class="dl"/>
<line x1="564.5" y1="284.2" x2="564.5" y2="364.0" class="da"/>
<line x1="564.5" y1="382.0" x2="564.5" y2="453.0" class="da"/>
<polygon points="564.0,277.7 560.2,284.2 567.8,284.2" fill="#215c9c"/>
<polygon points="564.0,459.5 560.2,453.0 567.8,453.0" fill="#215c9c"/>
<text x="540.4" y="377.4" textLength="42.8" lengthAdjust="spacingAndGlyphs" class="dt" font-size="12.7">2.51 in</text>
<line x1="575.5" y1="396.0" x2="575.5" y2="476.0" class="dl"/>
<line x1="661.5" y1="396.0" x2="661.5" y2="476.0" class="dl"/>
<line x1="582.9" y1="473.5" x2="595.4" y2="473.5" class="da"/>
<line x1="639.0" y1="473.5" x2="654.1" y2="473.5" class="da"/>
<text x="597.4" y="476.5" textLength="39.6" lengthAdjust="spacingAndGlyphs" class="dt" font-size="12.7">1.20 in</text>
<polygon points="576.4,473.0 582.9,469.2 582.9,476.8" fill="#215c9c"/>
<polygon points="660.6,473.0 654.1,469.2 654.1,476.8" fill="#215c9c"/>
<path d="M618.70,297.90 L612.94,290.96 A7.48,7.48 0 1 1 624.46,290.96 Z" fill="none" stroke="#3e3e3e" stroke-width="2.00" stroke-linejoin="round"/>
<path d="M613.64,290.46 A6.78,6.78 0 0 1 618.70,279.40" fill="none" stroke="#bbb" stroke-width="0.6"/>
<rect x="612.2" y="297.9" width="13.9" height="14.9" fill="url(#gc)" rx="1"/>
<path d="M606.15,313.90 C607.05,311.80 612.32,311.05 618.50,311.05 C624.68,311.05 629.95,311.80 630.85,313.90 C640.72,343.70 649.83,374.75 659.17,404.72 A42.60,42.60 0 1 1 577.83,404.72 C587.17,374.75 596.28,343.70 606.15,313.90 Z" fill="url(#gb)" filter="url(#tex)"/>
<path d="M606.15,313.90 C607.05,311.80 612.32,311.05 618.50,311.05 C624.68,311.05 629.95,311.80 630.85,313.90 C640.72,343.70 649.83,374.75 659.17,404.72 A42.60,42.60 0 1 1 577.83,404.72 C587.17,374.75 596.28,343.70 606.15,313.90 Z" fill="url(#gv)"/>
<path d="M612.54,313.80 L605.72,408.13" stroke="#fff" stroke-opacity="0.25" stroke-width="5.11" stroke-linecap="round" filter="url(#blur)"/>
<path d="M620.20,313.80 L621.06,393.31" stroke="#fff" stroke-opacity="0.22" stroke-width="4.26" stroke-linecap="round" filter="url(#blur)"/>
<path d="M616.37,315.80 L613.39,400.72" stroke="#000" stroke-opacity="0.10" stroke-width="4.26" stroke-linecap="round" filter="url(#blur)"/>
<ellipse cx="618.50" cy="312.60" rx="11.12" ry="2.13" fill="#d0d0d0" opacity="0.7"/>
<text x="608.2" y="413.0" textLength="22.4" lengthAdjust="spacingAndGlyphs" font-size="50.4" fill="#4a4a4a" stroke="#4a4a4a" stroke-width="3.03" opacity="0.45">8</text>
<text x="607.5" y="412.3" textLength="22.4" lengthAdjust="spacingAndGlyphs" font-size="50.4" fill="#9a9a9a" stroke="#dedede" stroke-width="2.27" opacity="1">8</text>
<rect x="590.6" y="487.3" width="55.4" height="26.5" rx="5.5" fill="#006cc5"/>
<text x="599.2" y="506.8" textLength="11.8" lengthAdjust="spacingAndGlyphs" font-size="16.3" class="pl" stroke="#fff" stroke-width="0.7">8</text>
<text x="615.7" y="506.8" textLength="20.5" lengthAdjust="spacingAndGlyphs" font-size="16.3" class="pl" stroke="#fff" stroke-width="0.7">oz</text>
<path d="M35,536.2 H137 V568.8 H31 V540.2 Q31,536.2 35,536.2 Z" fill="#d9e7f4"/>
<path d="M35,536.2 H141 V568.8 H31 V540.2 Q31,536.2 35,536.2 Z" fill="#d9e7f4"/>
<rect x="144" y="536.2" width="128.0" height="32.6" fill="#d9e7f4"/>
<rect x="275" y="536.2" width="118.5" height="32.6" fill="#d9e7f4"/>
<rect x="396.7" y="536.2" width="161.7" height="32.6" fill="#d9e7f4"/>
<path d="M561.3,536.2 H660.8 Q664.8,536.2 664.8,540.2 V568.8 H561.3 Z" fill="#d9e7f4"/>
<text x="48.2" y="559.6" textLength="77.6" lengthAdjust="spacingAndGlyphs" font-size="17.5" class="th" stroke="#0f3f7c" stroke-width="0.5">WEIGHT</text>
<text x="168.9" y="559.6" textLength="76.9" lengthAdjust="spacingAndGlyphs" font-size="17.5" class="th" stroke="#0f3f7c" stroke-width="0.5">LENGTH</text>
<text x="301.5" y="559.6" textLength="65.0" lengthAdjust="spacingAndGlyphs" font-size="17.5" class="th" stroke="#0f3f7c" stroke-width="0.5">WIDTH</text>
<text x="417.5" y="559.6" textLength="122.8" lengthAdjust="spacingAndGlyphs" font-size="17.5" class="th" stroke="#0f3f7c" stroke-width="0.5">SWIVEL SIZE</text>
<text x="586.8" y="559.6" textLength="54.0" lengthAdjust="spacingAndGlyphs" font-size="17.5" class="th" stroke="#0f3f7c" stroke-width="0.5">PACK</text>
<rect x="31" y="574.2" width="110.0" height="23.6" fill="#f8fafd"/>
<rect x="144" y="574.2" width="128.0" height="23.6" fill="#f8fafd"/>
<rect x="275" y="574.2" width="118.5" height="23.6" fill="#f8fafd"/>
<rect x="396.7" y="574.2" width="161.7" height="23.6" fill="#f8fafd"/>
<rect x="561.3" y="574.2" width="103.5" height="23.6" fill="#f8fafd"/>
<text x="66.6" y="591.4" textLength="38.8" lengthAdjust="spacingAndGlyphs" font-size="13.5" class="td">1/8oz</text>
<text x="183.8" y="591.4" textLength="47.6" lengthAdjust="spacingAndGlyphs" font-size="13.5" class="td">0.65 in</text>
<text x="309.9" y="591.4" textLength="47.6" lengthAdjust="spacingAndGlyphs" font-size="13.5" class="td">0.30 in</text>
<text x="444.6" y="591.4" textLength="68.8" lengthAdjust="spacingAndGlyphs" font-size="13.5" class="td">10# 83lbs</text>
<text x="605.2" y="591.4" textLength="17.6" lengthAdjust="spacingAndGlyphs" font-size="13.5" class="td">10</text>
<rect x="31" y="602.2" width="110.0" height="23.6" fill="#f8fafd"/>
<rect x="144" y="602.2" width="128.0" height="23.6" fill="#f8fafd"/>
<rect x="275" y="602.2" width="118.5" height="23.6" fill="#f8fafd"/>
<rect x="396.7" y="602.2" width="161.7" height="23.6" fill="#f8fafd"/>
<rect x="561.3" y="602.2" width="103.5" height="23.6" fill="#f8fafd"/>
<text x="66.6" y="619.4" textLength="38.8" lengthAdjust="spacingAndGlyphs" font-size="13.5" class="td">1/4oz</text>
<text x="183.8" y="619.4" textLength="47.6" lengthAdjust="spacingAndGlyphs" font-size="13.5" class="td">0.77 in</text>
<text x="309.9" y="619.4" textLength="47.6" lengthAdjust="spacingAndGlyphs" font-size="13.5" class="td">0.38 in</text>
<text x="444.6" y="619.4" textLength="68.8" lengthAdjust="spacingAndGlyphs" font-size="13.5" class="td">10# 83lbs</text>
<text x="605.2" y="619.4" textLength="17.6" lengthAdjust="spacingAndGlyphs" font-size="13.5" class="td">10</text>
<rect x="31" y="631.1" width="110.0" height="23.6" fill="#f8fafd"/>
<rect x="144" y="631.1" width="128.0" height="23.6" fill="#f8fafd"/>
<rect x="275" y="631.1" width="118.5" height="23.6" fill="#f8fafd"/>
<rect x="396.7" y="631.1" width="161.7" height="23.6" fill="#f8fafd"/>
<rect x="561.3" y="631.1" width="103.5" height="23.6" fill="#f8fafd"/>
<text x="66.6" y="648.3" textLength="38.8" lengthAdjust="spacingAndGlyphs" font-size="13.5" class="td">1/2oz</text>
<text x="183.8" y="648.3" textLength="47.6" lengthAdjust="spacingAndGlyphs" font-size="13.5" class="td">1.03 in</text>
<text x="309.9" y="648.3" textLength="47.6" lengthAdjust="spacingAndGlyphs" font-size="13.5" class="td">0.48 in</text>
<text x="449.0" y="648.3" textLength="59.9" lengthAdjust="spacingAndGlyphs" font-size="13.5" class="td">4# 73lbs</text>
<text x="605.2" y="648.3" textLength="17.6" lengthAdjust="spacingAndGlyphs" font-size="13.5" class="td">10</text>
<rect x="31" y="659.9" width="110.0" height="23.6" fill="#f8fafd"/>
<rect x="144" y="659.9" width="128.0" height="23.6" fill="#f8fafd"/>
<rect x="275" y="659.9" width="118.5" height="23.6" fill="#f8fafd"/>
<rect x="396.7" y="659.9" width="161.7" height="23.6" fill="#f8fafd"/>
<rect x="561.3" y="659.9" width="103.5" height="23.6" fill="#f8fafd"/>
<text x="66.6" y="677.1" textLength="38.8" lengthAdjust="spacingAndGlyphs" font-size="13.5" class="td">3/4oz</text>
<text x="183.8" y="677.1" textLength="47.6" lengthAdjust="spacingAndGlyphs" font-size="13.5" class="td">1.22 in</text>
<text x="309.9" y="677.1" textLength="47.6" lengthAdjust="spacingAndGlyphs" font-size="13.5" class="td">0.54 in</text>
<text x="449.0" y="677.1" textLength="59.9" lengthAdjust="spacingAndGlyphs" font-size="13.5" class="td">4# 73lbs</text>
<text x="605.2" y="677.1" textLength="17.6" lengthAdjust="spacingAndGlyphs" font-size="13.5" class="td">10</text>
<rect x="31" y="689.1" width="110.0" height="23.6" fill="#f8fafd"/>
<rect x="144" y="689.1" width="128.0" height="23.6" fill="#f8fafd"/>
<rect x="275" y="689.1" width="118.5" height="23.6" fill="#f8fafd"/>
<rect x="396.7" y="689.1" width="161.7" height="23.6" fill="#f8fafd"/>
<rect x="561.3" y="689.1" width="103.5" height="23.6" fill="#f8fafd"/>
<text x="73.2" y="706.3" textLength="25.6" lengthAdjust="spacingAndGlyphs" font-size="13.5" class="td">1oz</text>
<text x="183.8" y="706.3" textLength="47.6" lengthAdjust="spacingAndGlyphs" font-size="13.5" class="td">1.29 in</text>
<text x="309.9" y="706.3" textLength="47.6" lengthAdjust="spacingAndGlyphs" font-size="13.5" class="td">0.60 in</text>
<text x="449.0" y="706.3" textLength="59.9" lengthAdjust="spacingAndGlyphs" font-size="13.5" class="td">4# 73lbs</text>
<text x="605.2" y="706.3" textLength="17.6" lengthAdjust="spacingAndGlyphs" font-size="13.5" class="td">10</text>
<rect x="31" y="717.1" width="110.0" height="23.6" fill="#f8fafd"/>
<rect x="144" y="717.1" width="128.0" height="23.6" fill="#f8fafd"/>
<rect x="275" y="717.1" width="118.5" height="23.6" fill="#f8fafd"/>
<rect x="396.7" y="717.1" width="161.7" height="23.6" fill="#f8fafd"/>
<rect x="561.3" y="717.1" width="103.5" height="23.6" fill="#f8fafd"/>
<text x="73.2" y="734.3" textLength="25.6" lengthAdjust="spacingAndGlyphs" font-size="13.5" class="td">2oz</text>
<text x="183.8" y="734.3" textLength="47.6" lengthAdjust="spacingAndGlyphs" font-size="13.5" class="td">1.62 in</text>
<text x="309.9" y="734.3" textLength="47.6" lengthAdjust="spacingAndGlyphs" font-size="13.5" class="td">0.76 in</text>
<text x="449.0" y="734.3" textLength="59.9" lengthAdjust="spacingAndGlyphs" font-size="13.5" class="td">2# 88lbs</text>
<text x="609.6" y="734.3" textLength="8.8" lengthAdjust="spacingAndGlyphs" font-size="13.5" class="td">5</text>
<rect x="31" y="745.4" width="110.0" height="23.6" fill="#f8fafd"/>
<rect x="144" y="745.4" width="128.0" height="23.6" fill="#f8fafd"/>
<rect x="275" y="745.4" width="118.5" height="23.6" fill="#f8fafd"/>
<rect x="396.7" y="745.4" width="161.7" height="23.6" fill="#f8fafd"/>
<rect x="561.3" y="745.4" width="103.5" height="23.6" fill="#f8fafd"/>
<text x="73.2" y="762.6" textLength="25.6" lengthAdjust="spacingAndGlyphs" font-size="13.5" class="td">3oz</text>
<text x="183.8" y="762.6" textLength="47.6" lengthAdjust="spacingAndGlyphs" font-size="13.5" class="td">1.83 in</text>
<text x="309.9" y="762.6" textLength="47.6" lengthAdjust="spacingAndGlyphs" font-size="13.5" class="td">0.85 in</text>
<text x="449.0" y="762.6" textLength="59.9" lengthAdjust="spacingAndGlyphs" font-size="13.5" class="td">2# 88lbs</text>
<text x="609.6" y="762.6" textLength="8.8" lengthAdjust="spacingAndGlyphs" font-size="13.5" class="td">5</text>
<rect x="31" y="774.9" width="110.0" height="23.6" fill="#f8fafd"/>
<rect x="144" y="774.9" width="128.0" height="23.6" fill="#f8fafd"/>
<rect x="275" y="774.9" width="118.5" height="23.6" fill="#f8fafd"/>
<rect x="396.7" y="774.9" width="161.7" height="23.6" fill="#f8fafd"/>
<rect x="561.3" y="774.9" width="103.5" height="23.6" fill="#f8fafd"/>
<text x="73.2" y="792.1" textLength="25.6" lengthAdjust="spacingAndGlyphs" font-size="13.5" class="td">4oz</text>
<text x="183.8" y="792.1" textLength="47.6" lengthAdjust="spacingAndGlyphs" font-size="13.5" class="td">2.05 in</text>
<text x="309.9" y="792.1" textLength="47.6" lengthAdjust="spacingAndGlyphs" font-size="13.5" class="td">0.94 in</text>
<text x="449.0" y="792.1" textLength="59.9" lengthAdjust="spacingAndGlyphs" font-size="13.5" class="td">2# 88lbs</text>
<text x="609.6" y="792.1" textLength="8.8" lengthAdjust="spacingAndGlyphs" font-size="13.5" class="td">5</text>
<rect x="31" y="804.2" width="110.0" height="23.6" fill="#f8fafd"/>
<rect x="144" y="804.2" width="128.0" height="23.6" fill="#f8fafd"/>
<rect x="275" y="804.2" width="118.5" height="23.6" fill="#f8fafd"/>
<rect x="396.7" y="804.2" width="161.7" height="23.6" fill="#f8fafd"/>
<rect x="561.3" y="804.2" width="103.5" height="23.6" fill="#f8fafd"/>
<text x="73.2" y="821.4" textLength="25.6" lengthAdjust="spacingAndGlyphs" font-size="13.5" class="td">5oz</text>
<text x="183.8" y="821.4" textLength="47.6" lengthAdjust="spacingAndGlyphs" font-size="13.5" class="td">2.16 in</text>
<text x="309.9" y="821.4" textLength="47.6" lengthAdjust="spacingAndGlyphs" font-size="13.5" class="td">1.02 in</text>
<text x="449.0" y="821.4" textLength="59.9" lengthAdjust="spacingAndGlyphs" font-size="13.5" class="td">1# 97lbs</text>
<text x="609.6" y="821.4" textLength="8.8" lengthAdjust="spacingAndGlyphs" font-size="13.5" class="td">5</text>
<rect x="31" y="831.0" width="110.0" height="23.6" fill="#f8fafd"/>
<rect x="144" y="831.0" width="128.0" height="23.6" fill="#f8fafd"/>
<rect x="275" y="831.0" width="118.5" height="23.6" fill="#f8fafd"/>
<rect x="396.7" y="831.0" width="161.7" height="23.6" fill="#f8fafd"/>
<rect x="561.3" y="831.0" width="103.5" height="23.6" fill="#f8fafd"/>
<text x="73.2" y="848.2" textLength="25.6" lengthAdjust="spacingAndGlyphs" font-size="13.5" class="td">6oz</text>
<text x="183.8" y="848.2" textLength="47.6" lengthAdjust="spacingAndGlyphs" font-size="13.5" class="td">2.31 in</text>
<text x="309.9" y="848.2" textLength="47.6" lengthAdjust="spacingAndGlyphs" font-size="13.5" class="td">1.09 in</text>
<text x="449.0" y="848.2" textLength="59.9" lengthAdjust="spacingAndGlyphs" font-size="13.5" class="td">1# 97lbs</text>
<text x="609.6" y="848.2" textLength="8.8" lengthAdjust="spacingAndGlyphs" font-size="13.5" class="td">2</text>
<rect x="31" y="859.9" width="110.0" height="23.6" fill="#f8fafd"/>
<rect x="144" y="859.9" width="128.0" height="23.6" fill="#f8fafd"/>
<rect x="275" y="859.9" width="118.5" height="23.6" fill="#f8fafd"/>
<rect x="396.7" y="859.9" width="161.7" height="23.6" fill="#f8fafd"/>
<rect x="561.3" y="859.9" width="103.5" height="23.6" fill="#f8fafd"/>
<text x="73.2" y="877.1" textLength="25.6" lengthAdjust="spacingAndGlyphs" font-size="13.5" class="td">8oz</text>
<text x="183.8" y="877.1" textLength="47.6" lengthAdjust="spacingAndGlyphs" font-size="13.5" class="td">2.51 in</text>
<text x="309.9" y="877.1" textLength="47.6" lengthAdjust="spacingAndGlyphs" font-size="13.5" class="td">1.20 in</text>
<text x="449.0" y="877.1" textLength="59.9" lengthAdjust="spacingAndGlyphs" font-size="13.5" class="td">1# 97lbs</text>
<text x="609.6" y="877.1" textLength="8.8" lengthAdjust="spacingAndGlyphs" font-size="13.5" class="td">2</text>
</svg></body></html>
